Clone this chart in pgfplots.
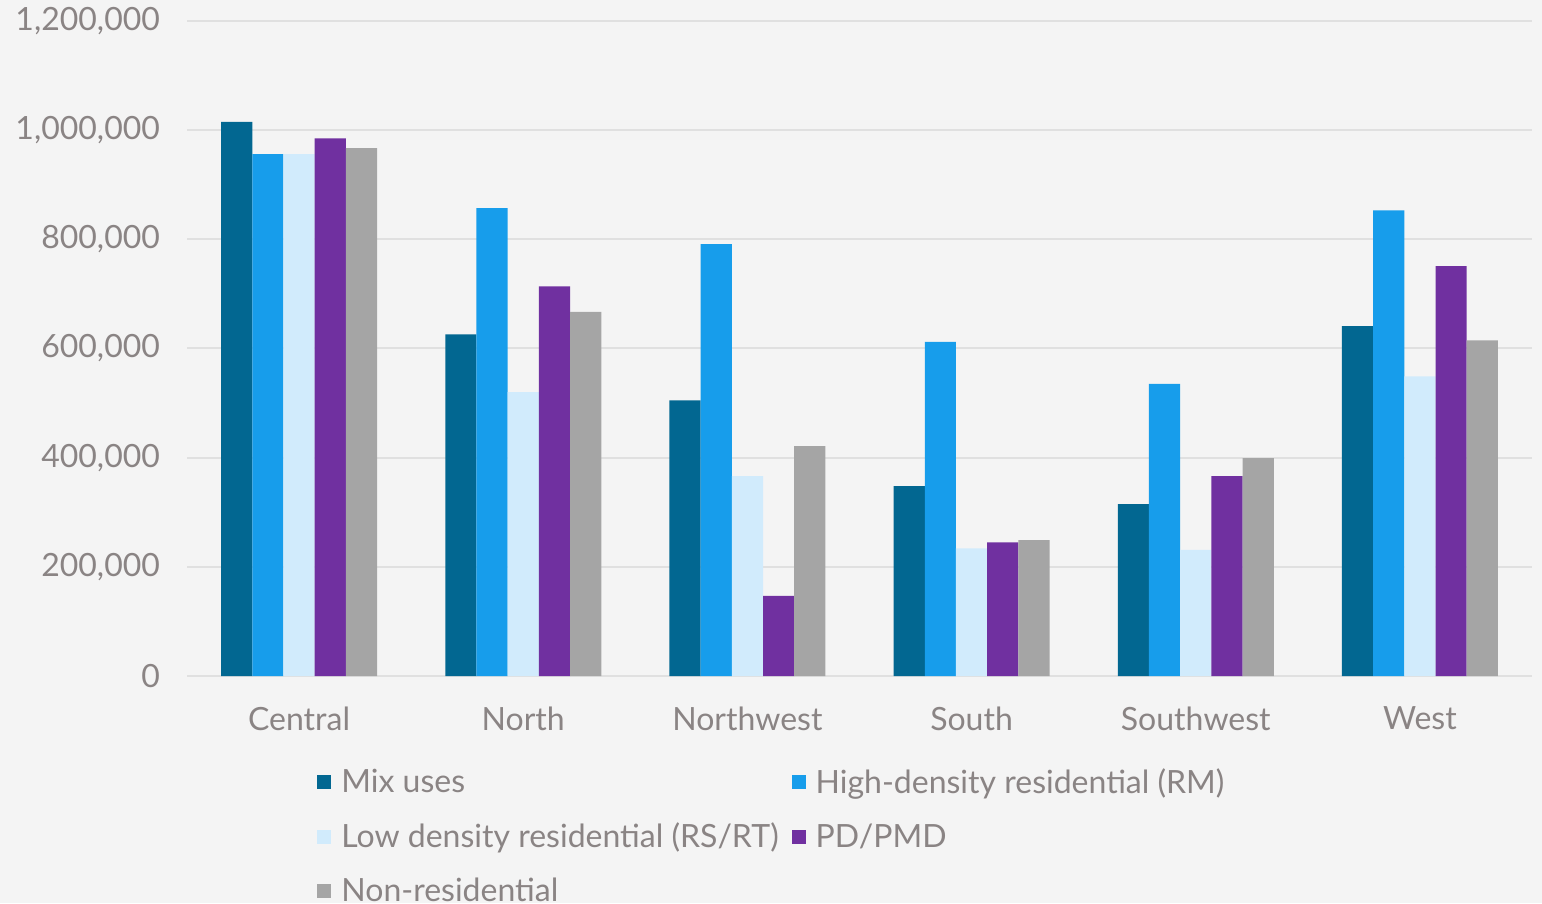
\documentclass[border=0pt]{standalone}
\usepackage{fontspec}
\setmainfont{Lato}
\usepackage{pgfplots}
\pgfplotsset{compat=1.18}
\usetikzlibrary{backgrounds}
\definecolor{bg}{HTML}{F4F4F4}
\definecolor{gridc}{HTML}{E0E0E0}
\definecolor{txt}{HTML}{8A8484}
\definecolor{mix}{RGB}{2,103,145}
\definecolor{rm}{RGB}{23,157,235}
\definecolor{low}{RGB}{209,235,252}
\definecolor{pd}{RGB}{112,48,160}
\definecolor{nonres}{HTML}{A5A5A5}
\begin{document}
\begin{tikzpicture}
\begin{axis}[name=ax,
  width=672.5pt, height=327.5pt, scale only axis,
  ymin=0, ymax=1200000, xmin=-0.5, xmax=5.5,
  ybar=0pt, bar width=15.6pt,
  xtick={0,1,2,3,4,5},
  xticklabels={Central,North,Northwest,South,Southwest,West},
  ytick={0,200000,400000,600000,800000,1000000,1200000},
  scaled y ticks=false,
  yticklabel style={/pgf/number format/fixed, /pgf/number format/1000 sep={,}, /pgf/number format/assume math mode=true, xshift=-10pt},
  ymajorgrids, grid style={draw=gridc, line width=1pt},
  axis line style={draw=none},
  major tick length=0pt,
  tick label style={font=\fontsize{16}{19}\selectfont, text=txt},
  xticklabel style={yshift=-12pt},
  legend style={draw=none, fill=none, at={(0.0922,-0.128)}, anchor=north west,
    legend columns=2, font=\fontsize{16}{19}\selectfont, text=txt,
    cells={anchor=west},
    /tikz/every even column/.append style={column sep=4.5pt},
    /tikz/every odd column/.append style={column sep=3pt},
    row sep=9.5pt},
  legend image code/.code={\fill[#1] (0pt,-3.5pt) rectangle (7pt,3.5pt);},
]
\addplot[fill=mix, draw=none] coordinates {(0,1015000) (1,626000) (2,505000) (3,348000) (4,315000) (5,641000)};
\addplot[fill=rm, draw=none] coordinates {(0,956000) (1,857000) (2,791000) (3,612000) (4,535000) (5,853000)};
\addplot[fill=low, draw=none] coordinates {(0,956000) (1,520000) (2,366000) (3,234000) (4,231000) (5,549000)};
\addplot[fill=pd, draw=none] coordinates {(0,985000) (1,714000) (2,147000) (3,245000) (4,366000) (5,751000)};
\addplot[fill=nonres, draw=none] coordinates {(0,967000) (1,667000) (2,421000) (3,249000) (4,399000) (5,615000)};
\legend{Mix uses, High-density residential (RM), Low density residential (RS/RT), PD/PMD, Non-residential}
\end{axis}
\pgfresetboundingbox
\path ([xshift=-93.5pt, yshift=-113.5pt]ax.south west) rectangle ([xshift=5pt, yshift=10.5pt]ax.north east);
\begin{scope}[on background layer]
\fill[bg] ([xshift=-93.5pt, yshift=-113.5pt]ax.south west) rectangle ([xshift=5pt, yshift=10.5pt]ax.north east);
\end{scope}
\end{tikzpicture}
\end{document}
